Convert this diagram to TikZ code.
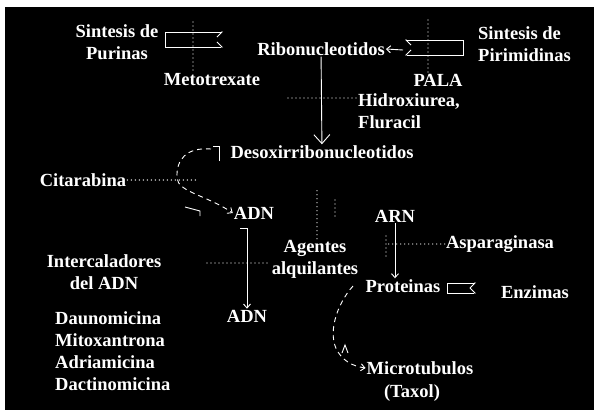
\documentclass[tikz,border=0pt]{standalone}
\usepackage{fontspec}
\setmainfont{Liberation Serif}
\usetikzlibrary{arrows.meta}
\begin{document}
\begin{tikzpicture}[x=1pt,y=-1pt,
        every node/.style={text=white,inner sep=1pt,font=\bfseries\fontsize{18.5}{22}\selectfont},
        conn/.style={white,line width=0.9pt},
        inhib/.style={white,line width=1.3pt,line cap=round,dash pattern=on 0pt off 4pt},
        dashline/.style={conn,dash pattern=on 5pt off 4pt},
        tip/.style={-{Straight Barb[length=4pt,width=7pt]}},
        bigtip/.style={-{Straight Barb[length=9pt,width=16pt]}},
        bracketR/.style={conn,{Straight Barb[harpoon,swap,length=5pt,width=10pt]}-{Straight Barb[harpoon,length=5pt,width=10pt]}},
        bracketL/.style={conn,{Straight Barb[harpoon,length=5pt,width=10pt]}-{Straight Barb[harpoon,swap,length=5pt,width=10pt]}}]
        % frame
            \fill[white] (0,0) rectangle (594,410);
            \fill[black] (5,7) rectangle (594,410);
            \useasboundingbox (0,0) rectangle (594,410);
        % labels
            \node[align=center] (sinpur) at (117,42) {Sintesis de\\Purinas};
            \node (metotrexate) at (212,80) {Metotrexate};
            \node (ribo) at (321,49) {Ribonucleotidos};
            \node[align=left,anchor=west] (sinpir) at (477,44) {Sintesis de\\Pirimidinas};
            \node (pala) at (438,80) {PALA};
            \node[align=left,anchor=west] (hidrox) at (357,111) {Hidroxiurea,\\Fluracil};
            \node (desoxi) at (322,152) {Desoxirribonucleotidos};
            \node (citarabina) at (83,180) {Citarabina};
            \node (adn1) at (254,213) {ADN};
            \node (arn) at (395,216) {ARN};
            \node (asparaginasa) at (500,244) {Asparaginasa};
            \node[align=center] (agentes) at (315,259) {Agentes\\alquilantes};
            \node[align=center] (intercal) at (104,272) {Intercaladores\\del ADN};
            \node[align=left,anchor=west] (drugs) at (54,351) {Daunomicina\\Mitoxantrona\\Adriamicina\\Dactinomicina};
            \node (adn2) at (247,316) {ADN};
            \node (proteinas) at (403,286) {Proteinas};
            \node (enzimas) at (535,292) {Enzimas};
            \node (micro) at (420,368) {Microtubulos};
            \node (taxol) at (412,393) {(Taxol)};
        % brackets
            \coordinate (purtop) at (223,32);
            \coordinate (purbot) at (223,47);
            \draw[bracketR] (purtop) -- (165,32) -- (165,47) -- (purbot);
            \coordinate (pirtop) at (405,40);
            \coordinate (pirbot) at (405,55);
            \draw[bracketL] (pirtop) -- (463,40) -- (463,55) -- (pirbot);
            \coordinate (rb) at (403,50);
            \draw[conn,tip] (rb) -- (ribo.east);
            \coordinate (entop) at (476,283);
            \coordinate (enbot) at (476,293);
            \draw[bracketR] (entop) -- (447,283) -- (447,293) -- (enbot);
        % pathways
            \draw[conn,bigtip] (ribo) -- (desoxi);
            \coordinate (ds) at (219,161);
            \draw[conn] (ds) |- (213,146);
            \draw[dashline,tip] (211,149) .. controls (186,147) and (176,160) .. (177,178) .. controls (178,192) and (206,195) .. (adn1.west);
            \draw[conn] (185,207) -- (200,211) -- (200,216);
            \coordinate (a1) at (240,228);
            \draw[conn,tip] (a1) -| (adn2.north);
            \draw[conn,tip] (arn.south) -- (arn.south |- proteinas.north);
            \coordinate (pm) at (353,286);
            \draw[dashline,tip] (pm) .. controls (336,305) and (327,335) .. (338,352) .. controls (344,361) and (352,366) .. (micro.west);
            \draw[conn] (342,353) -- (345,345) -- (348,353);
        % inhibitors
            \coordinate (mtx) at (193,22);
            \draw[inhib] (mtx) -- (mtx |- metotrexate.north);
            \coordinate (pl) at (428,20);
            \draw[inhib] (pl) -- (pl |- pala.north);
            \coordinate (hx) at (288,98);
            \draw[inhib] (hx) -- (hx -| hidrox.west);
            \coordinate (cit) at (196,178);
            \draw[inhib] (citarabina.east) -- (citarabina.east -| cit);
            \coordinate (ia) at (207,263);
            \draw[inhib] (ia) -- (ia -| agentes.west);
            \coordinate (ag) at (317,190);
            \draw[inhib] (agentes.north -| ag) -- (ag);
            \draw[inhib] (335,200) -- (335,218);
            \coordinate (as) at (386,244);
            \draw[inhib] (asparaginasa.west) -- (as);
            \draw[inhib] (386,236) -- (386,256);
\end{tikzpicture}
\end{document}
